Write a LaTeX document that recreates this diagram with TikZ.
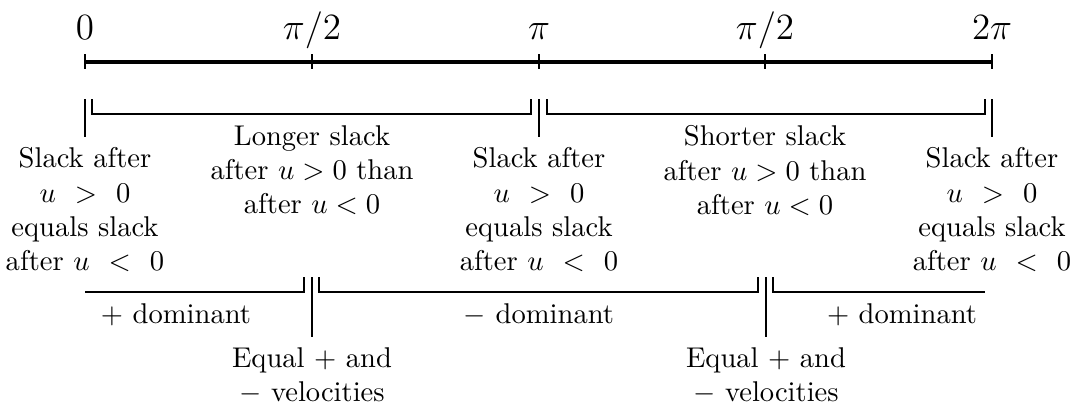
\documentclass[tikz,border=0pt]{standalone}
\usepackage{graphicx}
\newcommand{\lbl}[1]{\scalebox{1.08}{\large$#1$}}
\newcommand{\wgt}{\mskip 7mu}
\begin{document}
\begin{tikzpicture}[x=0.35pt,y=-0.35pt,
  lab/.style={anchor=base,inner sep=0pt},
  txt/.style={align=center,anchor=north,inner sep=0pt},
  one/.style={anchor=base,inner sep=0pt},
  axis/.style={line width=1.4pt},
  tickln/.style={line width=0.5pt},
  brk/.style={line width=0.45pt}]
\useasboundingbox (0,0) rectangle (1075,409);
% axis
\coordinate (A0) at (85,61.5);
\coordinate (A1) at (312,61.5);
\coordinate (A2) at (539,61.5);
\coordinate (A3) at (765,61.5);
\coordinate (A4) at (992,61.5);
\draw[axis] (A0) -- (A4);
\foreach \i in {0,...,4}{\draw[tickln] (A\i) ++(0,-7.5) -- ++(0,15);}
\node[lab] (L0) at (85,39) {\lbl{0}};
\node[lab] (L1) at (312,39) {\lbl{\pi/2}};
\node[lab] (L2) at (539,39) {\lbl{\pi}};
\node[lab] (L3) at (765,39) {\lbl{\pi/2}};
\node[lab] (L4) at (992,39) {\lbl{2\pi}};
% top separators
\coordinate (S0) at (85,99);
\coordinate (S2) at (539,99);
\coordinate (S4) at (992,99);
\foreach \s in {S0,S2,S4}{\draw[brk] (\s) -- ++(0,38);}
% top brackets
\coordinate (B1a) at (92,99);
\coordinate (B1b) at (531,99);
\coordinate (B2a) at (547,99);
\coordinate (B2b) at (985,99);
\draw[brk] (B1a) -- ++(0,15) -| (B1b);
\draw[brk] (B2a) -- ++(0,15) -| (B2b);
% top texts
\node[txt] (T1) at (85,147) {Slack after\\ $u\wgt>\wgt0$\\ equals slack\\ after $u\wgt<\wgt0$};
\node[txt] (T2) at (312,125) {Longer slack\\ after $u>0$ than\\ after $u<0$};
\node[txt] (T3) at (539,147) {Slack after\\ $u\wgt>\wgt0$\\ equals slack\\ after $u\wgt<\wgt0$};
\node[txt] (T4) at (765,125) {Shorter slack\\ after $u>0$ than\\ after $u<0$};
\node[txt] (T5) at (992,147) {Slack after\\ $u\wgt>\wgt0$\\ equals slack\\ after $u\wgt<\wgt0$};
% bottom brackets
\coordinate (C1a) at (85,292);
\coordinate (C1b) at (304,277);
\coordinate (C2a) at (319,277);
\coordinate (C2b) at (758,277);
\coordinate (C3a) at (773,277);
\coordinate (C3b) at (985,292);
\draw[brk] (C1a) -| (C1b);
\draw[brk] (C2a) -- ++(0,15) -| (C2b);
\draw[brk] (C3a) |- (C3b);
% bottom separators
\coordinate (V1) at (312,277);
\coordinate (V2) at (766,277);
\draw[brk] (V1) -- ++(0,60);
\draw[brk] (V2) -- ++(0,60);
% bottom texts
\node[one] (D1) at (176,323) {$+$ dominant};
\node[one] (D2) at (539,323) {$-$ dominant};
\node[one] (D3) at (902,323) {$+$ dominant};
\node[txt] (E1) at (312,347) {Equal $+$ and\\ $-$ velocities};
\node[txt] (E2) at (766,347) {Equal $+$ and\\ $-$ velocities};
\end{tikzpicture}
\end{document}
